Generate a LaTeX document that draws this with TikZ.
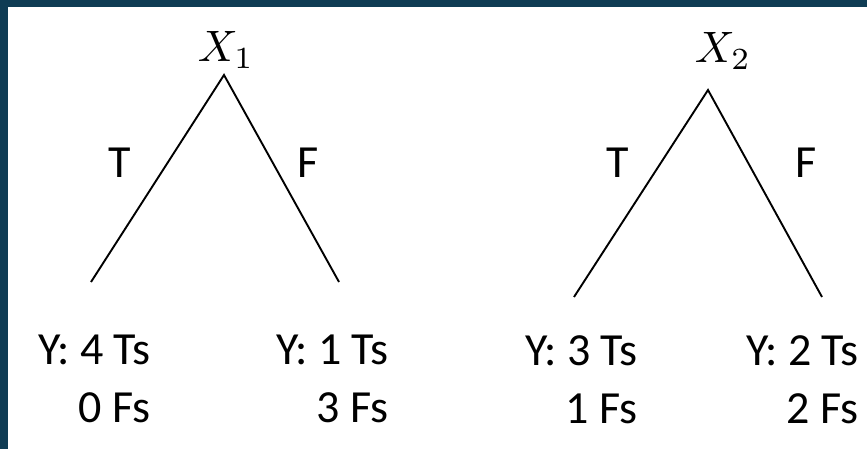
\documentclass[tikz,border=0pt]{standalone}
\usepackage{graphicx}
\usepackage{fontspec}
\newfontfamily\calibri{Carlito}
\definecolor{frame}{HTML}{0F3C54}
\newcommand{\rootvar}[1]{\scalebox{4.4}{$#1$}}
\tikzset{
  branch/.style={draw=black, line width=1.9pt},
  edgelab/.style={font=\calibri\fontsize{46}{54}\selectfont, inner sep=0pt, anchor=base},
  rootlab/.style={inner sep=0pt, anchor=base},
  leaflab/.style={font=\calibri\fontsize{46}{58}\selectfont, inner sep=0pt, align=right, anchor=north east}
}
\begin{document}
\begin{tikzpicture}[x=1pt, y=-1pt]
  \useasboundingbox (0,0) rectangle (867,449);
  \fill[white] (0,0) rectangle (867,449);
  % slide frame strips
  \fill[frame] (0,0) rectangle (867,7);
  \fill[frame] (0,0) rectangle (8,449);

  % first split
  \node[rootlab] (x1) at (226,62) {\rootvar{X_1}};
  \coordinate (x1top) at (224,75);
  \coordinate (x1l) at (91,282);
  \coordinate (x1r) at (339,282);
  \draw[branch] (x1l) -- (x1top) -- (x1r);
  \node[edgelab] (x1t) at (120,178) {T};
  \node[edgelab] (x1f) at (308,178) {F};
  \node[leaflab] (x1lt) at (151,335) {Y: 4 Ts\\0 Fs};
  \node[leaflab] (x1rt) at (389,335) {Y: 1 Ts\\3 Fs};

  % second split
  \node[rootlab] (x2) at (723,63) {\rootvar{X_2}};
  \coordinate (x2top) at (708,90);
  \coordinate (x2l) at (574,297);
  \coordinate (x2r) at (822,297);
  \draw[branch] (x2l) -- (x2top) -- (x2r);
  \node[edgelab] (x2t) at (618,178) {T};
  \node[edgelab] (x2f) at (806,178) {F};
  \node[leaflab] (x2lt) at (638,335) {Y: 3 Ts\\1 Fs};
  \node[leaflab] (x2rt) at (859,335) {Y: 2 Ts\\2 Fs};
\end{tikzpicture}
\end{document}
